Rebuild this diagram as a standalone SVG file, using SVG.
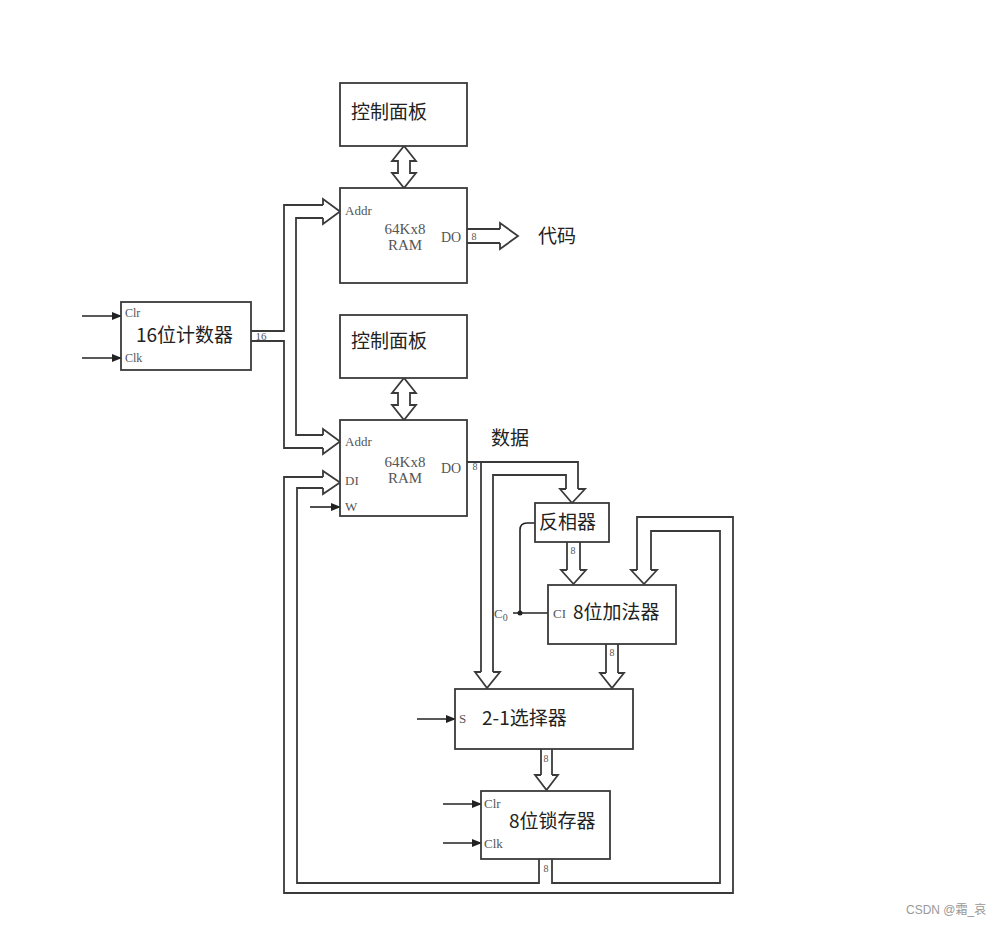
<svg xmlns="http://www.w3.org/2000/svg" width="1002" height="925" viewBox="0 0 1002 925">
<defs>
<marker id="ah" markerWidth="10" markerHeight="8" refX="9" refY="4" orient="auto" markerUnits="userSpaceOnUse">
<path d="M0,0 L10,4 L0,8 Z" fill="#222"/>
</marker>
<style>
.box{fill:#fff;stroke:#3a3a3a;stroke-width:1.8}
.bus{fill:none;stroke:#3a3a3a;stroke-width:1.8;stroke-linejoin:miter}
.head{fill:#fff;stroke:#3a3a3a;stroke-width:1.8;stroke-linejoin:miter}
.sig{fill:none;stroke:#222;stroke-width:1.6}
.cn{font-family:"Noto Sans CJK SC","Noto Sans",sans-serif;font-size:19px;fill:#222}
.pin{font-family:"Liberation Serif",serif;font-size:13px;fill:#555}
.mid{font-family:"Liberation Serif",serif;font-size:15px;fill:#555;text-anchor:middle}
.w8{font-family:"Liberation Serif",serif;font-size:10px;fill:#555;text-anchor:middle}
</style>
</defs>
<rect width="1002" height="925" fill="#fff"/>

<g id="connectors">
<!-- counter to Addr1 / Addr2 -->
<polyline class="bus" points="251,331 284,331 284,205 323,205"/>
<polyline class="bus" points="323,218 296,218 296,435 323,435"/>
<polyline class="bus" points="251,341 284,341 284,448 323,448"/>
<path class="head" d="M323,205 L323,199 L340,211.5 L323,224 L323,218"/>
<path class="head" d="M323,435 L323,429 L340,441.5 L323,454 L323,448"/>
<!-- RAM1 DO -->
<polyline class="bus" points="467,229 500,229"/>
<polyline class="bus" points="467,243 500,243"/>
<path class="head" d="M500,229 L500,223 L518,236 L500,249 L500,243"/>
<!-- double arrows -->
<path class="head" d="M398,161 L392,161 L404,146 L416,161 L410,161 L410,173 L416,173 L404,188 L392,173 L398,173 Z"/>
<path class="head" d="M398,393 L392,393 L404,378 L416,393 L410,393 L410,405 L416,405 L404,420 L392,405 L398,405 Z"/>
<!-- RAM2 DO -->
<polyline class="bus" points="467,462 578,462 578,489"/>
<polyline class="bus" points="481,462 481,672"/>
<polyline class="bus" points="493,672 493,475 566,475 566,489"/>
<path class="head" d="M566,489 L560,489 L572,503 L585,489 L578,489"/>
<path class="head" d="M481,672 L475,672 L487,688 L500,672 L493,672"/>
<!-- inverter to adder -->
<polyline class="bus" points="567,542 567,570"/>
<polyline class="bus" points="580,542 580,570"/>
<path class="head" d="M567,570 L561,570 L573.5,584 L586,570 L580,570"/>
<!-- adder to selector -->
<polyline class="bus" points="606,644 606,673"/>
<polyline class="bus" points="618,644 618,673"/>
<path class="head" d="M606,673 L600,673 L612,688 L624,673 L618,673"/>
<!-- selector to latch -->
<polyline class="bus" points="541,749 541,775"/>
<polyline class="bus" points="552,749 552,775"/>
<path class="head" d="M541,775 L535,775 L546.5,790 L558,775 L552,775"/>
<!-- feedback loops -->
<polyline class="bus" points="323,477 284,477 284,893 733,893 733,517 637,517 637,570"/>
<polyline class="bus" points="323,488 297,488 297,883 539,883 539,859"/>
<polyline class="bus" points="552,859 552,883 720,883 720,531 651,531 651,570"/>
<path class="head" d="M323,477 L323,471 L340,482.5 L323,494 L323,488"/>
<path class="head" d="M637,570 L631,570 L644,584 L657,570 L651,570"/>
<!-- carry-in -->
<path class="sig" d="M535,523 L527,523 Q520,523 520,530 L520,613"/>
<line class="sig" x1="513" y1="613" x2="549" y2="613"/>
<circle cx="520" cy="613" r="2.5" fill="#222"/>
<!-- control signals -->
<line class="sig" x1="82" y1="316" x2="121" y2="316" marker-end="url(#ah)"/>
<line class="sig" x1="82" y1="358" x2="121" y2="358" marker-end="url(#ah)"/>
<line class="sig" x1="310" y1="507" x2="340" y2="507" marker-end="url(#ah)"/>
<line class="sig" x1="417" y1="719" x2="455" y2="719" marker-end="url(#ah)"/>
<line class="sig" x1="443" y1="804" x2="481" y2="804" marker-end="url(#ah)"/>
<line class="sig" x1="443" y1="843" x2="481" y2="843" marker-end="url(#ah)"/>
<!-- width labels -->
<text class="w8" x="474" y="240">8</text>
<text class="w8" x="475" y="470">8</text>
<text class="w8" x="573" y="554">8</text>
<text class="w8" x="612" y="656">8</text>
<text class="w8" x="546" y="762">8</text>
<text class="w8" x="546" y="872">8</text>
<text class="w8" x="261" y="340" style="font-size:11px">16</text>
</g>

<g id="cp1">
<rect class="box" x="340" y="83" width="127" height="63"/>
<text class="cn" x="351" y="119">控制面板</text>
</g>

<g id="ram1">
<rect class="box" x="340" y="188" width="127" height="95"/>
<text class="pin" x="345" y="215">Addr</text>
<text class="mid" x="405" y="234">64Kx8</text>
<text class="mid" x="405" y="250">RAM</text>
<text class="pin" x="441" y="242" style="font-size:14px">DO</text>
</g>

<g id="code">
<text class="cn" x="538" y="243">代码</text>
</g>

<g id="counter">
<rect class="box" x="121" y="302" width="130" height="68"/>
<text class="pin" x="125" y="317" style="font-size:12px">Clr</text>
<text class="pin" x="125" y="362" style="font-size:12px">Clk</text>
<text class="cn" x="136" y="342">16位计数器</text>
</g>

<g id="cp2">
<rect class="box" x="340" y="315" width="127" height="63"/>
<text class="cn" x="351" y="348">控制面板</text>
</g>

<g id="ram2">
<rect class="box" x="340" y="420" width="127" height="96"/>
<text class="pin" x="345" y="446">Addr</text>
<text class="mid" x="405" y="467">64Kx8</text>
<text class="mid" x="405" y="483">RAM</text>
<text class="pin" x="441" y="473" style="font-size:14px">DO</text>
<text class="pin" x="345" y="485">DI</text>
<text class="pin" x="345" y="511">W</text>
</g>

<g id="data">
<text class="cn" x="491" y="445">数据</text>
</g>

<g id="inverter">
<rect class="box" x="535" y="503" width="74" height="39"/>
<text class="cn" x="539" y="529">反相器</text>
</g>

<g id="adder">
<rect class="box" x="548" y="585" width="128" height="59"/>
<text class="pin" x="553" y="618">CI</text>
<text class="cn" x="573" y="619">8位加法器</text>
<text class="pin" x="494" y="618">C<tspan dy="3" style="font-size:10px">0</tspan></text>
</g>

<g id="selector">
<rect class="box" x="455" y="689" width="178" height="60"/>
<text class="pin" x="459" y="723">S</text>
<text class="cn" x="482" y="725">2-1选择器</text>
</g>

<g id="latch">
<rect class="box" x="481" y="791" width="129" height="68"/>
<text class="pin" x="484" y="808">Clr</text>
<text class="pin" x="484" y="848">Clk</text>
<text class="cn" x="509" y="828">8位锁存器</text>
</g>

<g id="watermark">
<text x="906" y="914" style="font-family:'Liberation Sans','Noto Sans CJK SC',sans-serif;font-size:12px;fill:#999">CSDN @霜_哀</text>
</g>
</svg>
